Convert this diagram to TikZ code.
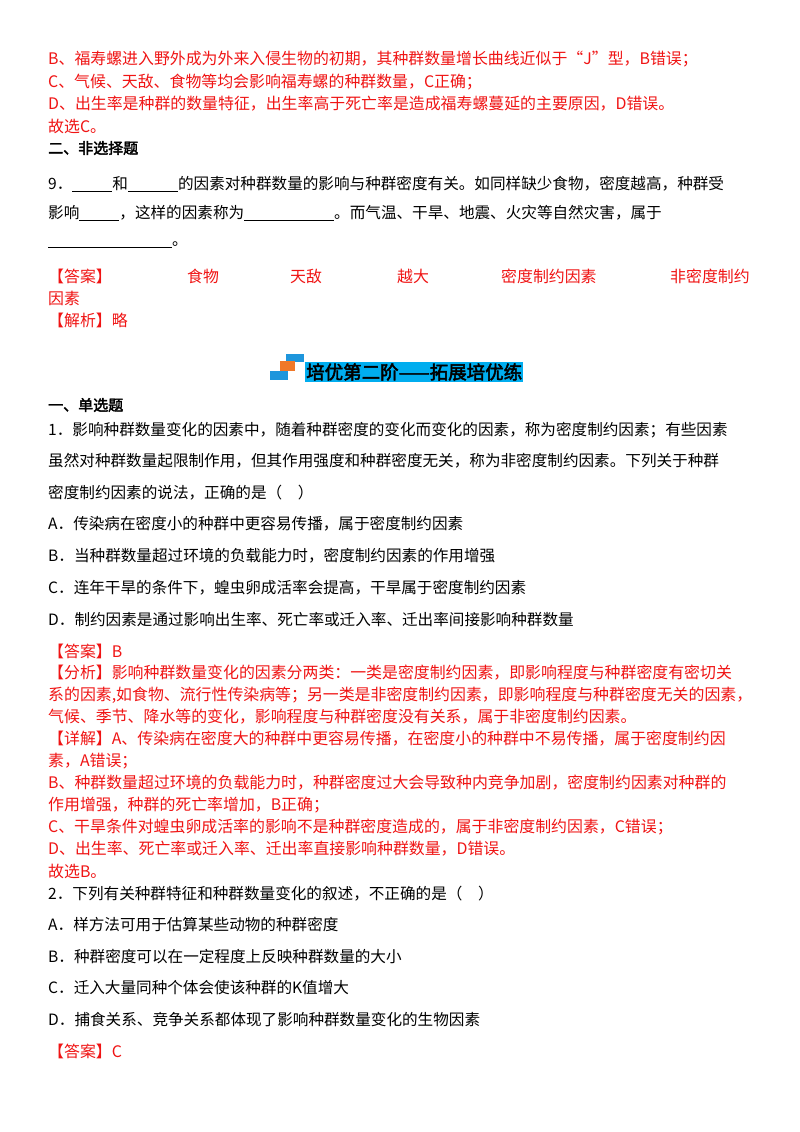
\documentclass[tikz,border=0pt]{standalone}
\usepackage{fontspec}
\setmainfont{Noto Sans CJK SC}[AutoFakeBold=2.5]
\definecolor{rd}{RGB}{240,20,20}
\definecolor{bl}{RGB}{30,150,220}
\definecolor{og}{RGB}{240,120,40}
\newcommand{\blank}[1]{\rule[-2pt]{#1pt}{0.6pt}}
\begin{document}
\begin{tikzpicture}[x=1pt,y=-1pt,
  ln/.style={anchor=west,inner sep=0pt,font=\fontsize{15.6}{17}\selectfont},
  rl/.style={ln,text=rd,font=\fontsize{15.9}{17}\selectfont},
  hd/.style={ln,font=\fontsize{15}{17}\selectfont\bfseries}]
\useasboundingbox (0,0) rectangle (800,1132);
\fill[white] (0,0) rectangle (800,1132);
\node[rl] (l1) at (48,59) {B、福寿螺进入野外成为外来入侵生物的初期，其种群数量增长曲线近似于“J”型，B错误；};
\node[rl] (l2) at (48,82) {C、气候、天敌、食物等均会影响福寿螺的种群数量，C正确；};
\node[rl] (l3) at (48,104) {D、出生率是种群的数量特征，出生率高于死亡率是造成福寿螺蔓延的主要原因，D错误。};
\node[rl] (l4) at (48,126) {故选C。};
\node[hd] (l5) at (48,148) {二、非选择题};
\node[ln] (l6) at (48,184) {9．\blank{40}和\blank{50}的因素对种群数量的影响与种群密度有关。如同样缺少食物，密度越高，种群受};
\node[ln] (l7) at (48,213) {影响\blank{40}，这样的因素称为\blank{90}。而气温、干旱、地震、火灾等自然灾害，属于};
\node[ln] (l8) at (48,245) {\blank{124}。};
\node[rl] (a0) at (48,276) {【答案】};
\node[rl] (a1) at (187,276) {食物};
\node[rl] (a2) at (290,276) {天敌};
\node[rl] (a3) at (397,276) {越大};
\node[rl] (a4) at (501,276) {密度制约因素};
\node[rl] (a5) at (670,276) {非密度制约};
\node[rl] (a6) at (48,298) {因素};
\node[rl] (a7) at (48,320) {【解析】略};
% banner
\fill[bl] (286,354) rectangle (304,362);
\fill[og] (280,361) rectangle (295,371);
\fill[bl] (270,371) rectangle (288,380);
\node[fill=cyan,inner sep=1pt,anchor=west,font=\fontsize{18.5}{20}\selectfont\bfseries] (ban) at (305,372) {培优第二阶——拓展培优练};
\node[hd] (s1) at (48,405) {一、单选题};
\node[ln] (q1) at (48,430) {1．影响种群数量变化的因素中，随着种群密度的变化而变化的因素，称为密度制约因素；有些因素};
\node[ln] (q2) at (48,461) {虽然对种群数量起限制作用，但其作用强度和种群密度无关，称为非密度制约因素。下列关于种群};
\node[ln] (q3) at (48,493) {密度制约因素的说法，正确的是（　）};
\node[ln] (qa) at (48,524) {A．传染病在密度小的种群中更容易传播，属于密度制约因素};
\node[ln] (qb) at (48,556) {B．当种群数量超过环境的负载能力时，密度制约因素的作用增强};
\node[ln] (qc) at (48,588) {C．连年干旱的条件下，蝗虫卵成活率会提高，干旱属于密度制约因素};
\node[ln] (qd) at (48,620) {D．制约因素是通过影响出生率、死亡率或迁入率、迁出率间接影响种群数量};
\node[rl] (r1) at (48,651) {【答案】B};
\node[rl] (r2) at (48,673) {【分析】影响种群数量变化的因素分两类：一类是密度制约因素，即影响程度与种群密度有密切关};
\node[rl] (r3) at (48,695) {系的因素,如食物、流行性传染病等；另一类是非密度制约因素，即影响程度与种群密度无关的因素，};
\node[rl] (r4) at (48,717) {气候、季节、降水等的变化，影响程度与种群密度没有关系，属于非密度制约因素。};
\node[rl] (r5) at (48,739) {【详解】A、传染病在密度大的种群中更容易传播，在密度小的种群中不易传播，属于密度制约因};
\node[rl] (r6) at (48,761) {素，A错误；};
\node[rl] (r7) at (48,783) {B、种群数量超过环境的负载能力时，种群密度过大会导致种内竞争加剧，密度制约因素对种群的};
\node[rl] (r8) at (48,805) {作用增强，种群的死亡率增加，B正确；};
\node[rl] (r9) at (48,827) {C、干旱条件对蝗虫卵成活率的影响不是种群密度造成的，属于非密度制约因素，C错误；};
\node[rl] (r10) at (48,849) {D、出生率、死亡率或迁入率、迁出率直接影响种群数量，D错误。};
\node[rl] (r11) at (48,871) {故选B。};
\node[ln] (p1) at (48,894) {2．下列有关种群特征和种群数量变化的叙述，不正确的是（　）};
\node[ln] (pa) at (48,925) {A．样方法可用于估算某些动物的种群密度};
\node[ln] (pb) at (48,957) {B．种群密度可以在一定程度上反映种群数量的大小};
\node[ln] (pc) at (48,988) {C．迁入大量同种个体会使该种群的K值增大};
\node[ln] (pd) at (48,1020) {D．捕食关系、竞争关系都体现了影响种群数量变化的生物因素};
\node[rl] (pe) at (48,1051) {【答案】C};
\end{tikzpicture}
\end{document}
